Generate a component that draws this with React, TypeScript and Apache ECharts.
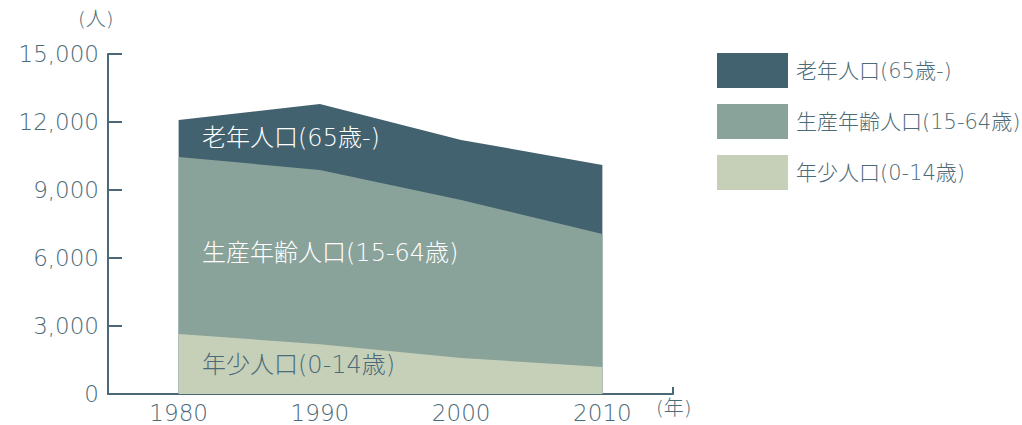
import React, { useEffect, useRef } from "react";
import * as echarts from "echarts";

const years = [1980, 1990, 2000, 2010];
const youngValues = [2650, 2200, 1590, 1190];
const workingValues = [7810, 7680, 6970, 5870];
const elderlyValues = [1630, 2910, 2650, 3040];
const seriesNames = ["年少人口(0-14歳)", "生産年齢人口(15-64歳)", "老年人口(65歳-)"];
const legendOrder = ["老年人口(65歳-)", "生産年齢人口(15-64歳)", "年少人口(0-14歳)"];
const yTicks = [0, 3000, 6000, 9000, 12000, 15000];
const yUnit = "(人)";
const xUnit = "(年)";

const COLORS = {
  young: "#c6d0b8",
  working: "#8aa39a",
  elderly: "#43626f",
  axis: "#4a6876",
  text: "#4c6b78",
};

const FONT = "'DejaVu Sans', 'Noto Sans CJK JP', sans-serif";

export default function App() {
  const ref = useRef<HTMLDivElement>(null);
  useEffect(() => {
    if (!ref.current) return;
    const chart = echarts.init(ref.current, undefined, { renderer: "svg" });
    // cumulative tops for the stacked layers (drawn back to front)
    const youngTop = youngValues.map((v) => v);
    const workingTop = youngValues.map((v, i) => v + workingValues[i]);
    const elderlyTop = workingTop.map((v, i) => v + elderlyValues[i]);
    const mk = (name: string, vals: number[], color: string, z: number) => ({
      name,
      type: "line",
      symbol: "none",
      z,
      lineStyle: { width: 0 },
      itemStyle: { color },
      areaStyle: { color, opacity: 1, origin: "start" },
      data: years.map((y, i) => [y, vals[i]]),
    });
    chart.setOption({
      animation: false,
      grid: { left: 108, right: 349, top: 54, bottom: 31, containLabel: false },
      legend: {
        orient: "vertical",
        left: 717,
        top: 53,
        padding: 0,
        itemWidth: 71,
        itemHeight: 35,
        itemGap: 16,
        icon: "rect",
        data: legendOrder,
        selectedMode: false,
        textStyle: {
          color: COLORS.text,
          fontSize: 21,
          fontFamily: FONT,
          fontWeight: 300,
          padding: [0, 0, 0, 3],
        },
      },
      xAxis: {
        type: "value",
        min: 1975,
        max: 2015,
        interval: 5,
        splitLine: { show: false },
        axisLine: { show: true, lineStyle: { color: COLORS.axis, width: 2 } },
        axisTick: {
          show: true,
          inside: true,
          length: 7,
          customValues: [2015],
          lineStyle: { color: COLORS.axis, width: 2 },
        },
        axisLabel: {
          customValues: years,
          color: COLORS.text,
          fontSize: 23,
          fontFamily: FONT,
          fontWeight: 300,
          margin: 7,
          formatter: (v: number) => String(v),
        },
      },
      yAxis: {
        type: "value",
        min: 0,
        max: 15000,
        interval: 3000,
        splitLine: { show: false },
        axisLine: { show: true, lineStyle: { color: COLORS.axis, width: 2 } },
        axisTick: {
          show: true,
          inside: true,
          length: 14,
          lineStyle: { color: COLORS.axis, width: 2 },
        },
        axisLabel: {
          color: COLORS.text,
          fontSize: 23,
          fontFamily: FONT,
          fontWeight: 300,
          margin: 9,
          customValues: yTicks,
          formatter: (v: number) => v.toLocaleString("en-US"),
        },
      },
      series: [
        mk(seriesNames[2], elderlyTop, COLORS.elderly, 2),
        mk(seriesNames[1], workingTop, COLORS.working, 3),
        mk(seriesNames[0], youngTop, COLORS.young, 4),
      ],
      graphic: [
        {
          type: "text",
          left: 78,
          top: 9,
          style: { text: yUnit, fill: COLORS.text, font: `300 20px ${FONT}` },
        },
        {
          type: "text",
          left: 656,
          top: 398,
          style: { text: xUnit, fill: COLORS.text, font: `300 20px ${FONT}` },
        },
        {
          type: "text",
          left: 202,
          top: 126,
          z: 10,
          style: { text: seriesNames[2], fill: "#ffffff", font: `300 24px ${FONT}` },
        },
        {
          type: "text",
          left: 202,
          top: 241,
          z: 10,
          style: { text: seriesNames[1], fill: "#ffffff", font: `300 24px ${FONT}` },
        },
        {
          type: "text",
          left: 202,
          top: 353,
          z: 10,
          style: { text: seriesNames[0], fill: COLORS.text, font: `300 24px ${FONT}` },
        },
      ],
    });
    return () => chart.dispose();
  }, []);
  return (
    <div
      ref={ref}
      style={{ position: "absolute", left: 0, top: 0, width: 1022, height: 425 }}
    />
  );
}
